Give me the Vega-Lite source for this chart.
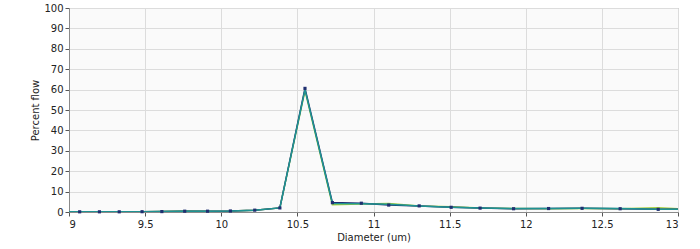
{
  "$schema": "https://vega.github.io/schema/vega-lite/v6.json",
  "width": 609,
  "height": 204,
  "autosize": "none",
  "padding": {"left": 69, "top": 8, "right": 22, "bottom": 37},
  "background": "white",
  "config": {
    "view": {"fill": "#fafafa", "stroke": "#a0a0a0", "strokeWidth": 1},
    "font": "DejaVu Sans",
    "axis": {
      "labelFont": "DejaVu Sans", "titleFont": "DejaVu Sans",
      "labelFontSize": 10, "titleFontSize": 10, "titleFontWeight": "normal",
      "labelColor": "#222", "titleColor": "#222",
      "gridColor": "#dcdcdc", "gridWidth": 1,
      "domainColor": "#8a8a8a", "tickColor": "#555", "tickSize": 4,
      "labelOverlap": false
    }
  },
  "data": {"values": [
    {"d": 9.0, "v": 0.1, "s": "C"}, {"d": 9.07, "v": 0.1, "s": "C"}, {"d": 9.2, "v": 0.1, "s": "C"}, {"d": 9.33, "v": 0.1, "s": "C"}, {"d": 9.48, "v": 0.15, "s": "C"}, {"d": 9.61, "v": 0.2, "s": "C"}, {"d": 9.76, "v": 0.5, "s": "C"}, {"d": 9.91, "v": 0.4, "s": "C"}, {"d": 10.06, "v": 0.5, "s": "C"}, {"d": 10.22, "v": 0.9, "s": "C"}, {"d": 10.385, "v": 2.0, "s": "C"}, {"d": 10.55, "v": 59.5, "s": "C"}, {"d": 10.73, "v": 3.6, "s": "C"}, {"d": 10.92, "v": 3.9, "s": "C"}, {"d": 11.1, "v": 4.2, "s": "C"}, {"d": 11.3, "v": 3.0, "s": "C"}, {"d": 11.51, "v": 2.6, "s": "C"}, {"d": 11.7, "v": 2.0, "s": "C"}, {"d": 11.92, "v": 1.7, "s": "C"}, {"d": 12.15, "v": 1.6, "s": "C"}, {"d": 12.37, "v": 1.7, "s": "C"}, {"d": 12.62, "v": 1.6, "s": "C"}, {"d": 12.87, "v": 2.1, "s": "C"}, {"d": 13.0, "v": 1.6, "s": "C"},
    {"d": 9.0, "v": 0.1, "s": "A"}, {"d": 9.07, "v": 0.1, "s": "A"}, {"d": 9.2, "v": 0.1, "s": "A"}, {"d": 9.33, "v": 0.1, "s": "A"}, {"d": 9.48, "v": 0.15, "s": "A"}, {"d": 9.61, "v": 0.2, "s": "A"}, {"d": 9.76, "v": 0.4, "s": "A"}, {"d": 9.91, "v": 0.4, "s": "A"}, {"d": 10.06, "v": 0.5, "s": "A"}, {"d": 10.22, "v": 0.9, "s": "A"}, {"d": 10.385, "v": 2.0, "s": "A"}, {"d": 10.55, "v": 60.6, "s": "A"}, {"d": 10.73, "v": 4.6, "s": "A"}, {"d": 10.92, "v": 4.3, "s": "A"}, {"d": 11.1, "v": 3.4, "s": "A"}, {"d": 11.3, "v": 3.0, "s": "A"}, {"d": 11.51, "v": 2.3, "s": "A"}, {"d": 11.7, "v": 1.9, "s": "A"}, {"d": 11.92, "v": 1.6, "s": "A"}, {"d": 12.15, "v": 1.7, "s": "A"}, {"d": 12.37, "v": 1.8, "s": "A"}, {"d": 12.62, "v": 1.6, "s": "A"}, {"d": 12.87, "v": 1.3, "s": "A"}, {"d": 13.0, "v": 1.4, "s": "A"},
    {"d": 9.0, "v": 0.1, "s": "B"}, {"d": 9.07, "v": 0.1, "s": "B"}, {"d": 9.2, "v": 0.1, "s": "B"}, {"d": 9.33, "v": 0.1, "s": "B"}, {"d": 9.48, "v": 0.15, "s": "B"}, {"d": 9.61, "v": 0.2, "s": "B"}, {"d": 9.76, "v": 0.4, "s": "B"}, {"d": 9.91, "v": 0.4, "s": "B"}, {"d": 10.06, "v": 0.5, "s": "B"}, {"d": 10.22, "v": 0.9, "s": "B"}, {"d": 10.385, "v": 2.0, "s": "B"}, {"d": 10.55, "v": 60.0, "s": "B"}, {"d": 10.73, "v": 4.2, "s": "B"}, {"d": 10.92, "v": 4.0, "s": "B"}, {"d": 11.1, "v": 3.8, "s": "B"}, {"d": 11.3, "v": 3.0, "s": "B"}, {"d": 11.51, "v": 2.3, "s": "B"}, {"d": 11.7, "v": 2.0, "s": "B"}, {"d": 11.92, "v": 1.7, "s": "B"}, {"d": 12.15, "v": 1.7, "s": "B"}, {"d": 12.37, "v": 1.8, "s": "B"}, {"d": 12.62, "v": 1.7, "s": "B"}, {"d": 12.87, "v": 1.4, "s": "B"}, {"d": 13.0, "v": 1.4, "s": "B"}
  ]},
  "encoding": {
    "x": {"field": "d", "type": "quantitative", "scale": {"domain": [9, 13], "nice": false, "zero": false},
          "axis": {"title": "Diameter (um)", "values": [9, 9.5, 10, 10.5, 11, 11.5, 12, 12.5, 13], "labelExpr": "datum.value", "titlePadding": 3, "labelPadding": 3}},
    "y": {"field": "v", "type": "quantitative", "scale": {"domain": [0, 100], "nice": false},
          "axis": {"title": "Percent flow", "values": [0,10,20,30,40,50,60,70,80,90,100], "titlePadding": 3}}
  },
  "layer": [
    {
      "mark": {"type": "line", "strokeWidth": 1.5, "clip": true},
      "encoding": {
        "color": {"field": "s", "type": "nominal", "scale": {"domain": ["C", "A", "B"], "range": ["#a6cf3c", "#1f2f70", "#1f9393"]}, "legend": null},
        "opacity": {"field": "s", "type": "nominal", "scale": {"domain": ["C", "A", "B"], "range": [1, 1, 0.75]}, "legend": null}
      }
    },
    {
      "transform": [{"filter": "datum.s == 'A' && datum.d > 9 && datum.d < 13"}],
      "mark": {"type": "square", "size": 10, "filled": true, "color": "#1f2f70", "opacity": 1},
      "encoding": {}
    }
  ]
}
